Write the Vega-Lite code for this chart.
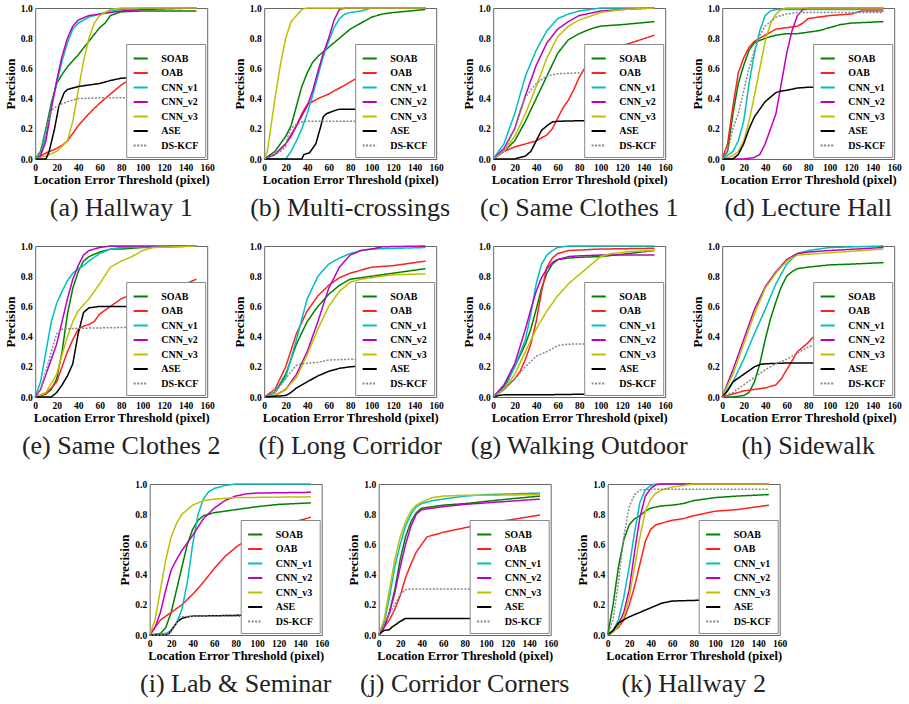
{
"$schema":"https://vega.github.io/schema/vega-lite/v6.json",
"padding":{"top":2,"left":3,"right":5,"bottom":5},
"data":{"values":[
{"p":"a","s":"SOAB","x":0,"y":0},{"p":"a","s":"SOAB","x":5,"y":0.05},{"p":"a","s":"SOAB","x":10,"y":0.2},{"p":"a","s":"SOAB","x":15,"y":0.37},{"p":"a","s":"SOAB","x":20,"y":0.5},{"p":"a","s":"SOAB","x":25,"y":0.56},{"p":"a","s":"SOAB","x":30,"y":0.61},{"p":"a","s":"SOAB","x":40,"y":0.69},{"p":"a","s":"SOAB","x":50,"y":0.78},{"p":"a","s":"SOAB","x":60,"y":0.87},{"p":"a","s":"SOAB","x":65,"y":0.9},{"p":"a","s":"SOAB","x":70,"y":0.95},{"p":"a","s":"SOAB","x":80,"y":0.975},{"p":"a","s":"SOAB","x":100,"y":0.98},{"p":"a","s":"SOAB","x":150,"y":0.98},
{"p":"a","s":"OAB","x":0,"y":0},{"p":"a","s":"OAB","x":10,"y":0.04},{"p":"a","s":"OAB","x":20,"y":0.07},{"p":"a","s":"OAB","x":25,"y":0.09},{"p":"a","s":"OAB","x":30,"y":0.12},{"p":"a","s":"OAB","x":40,"y":0.22},{"p":"a","s":"OAB","x":50,"y":0.3},{"p":"a","s":"OAB","x":60,"y":0.37},{"p":"a","s":"OAB","x":70,"y":0.43},{"p":"a","s":"OAB","x":80,"y":0.49},{"p":"a","s":"OAB","x":100,"y":0.58},{"p":"a","s":"OAB","x":120,"y":0.65},{"p":"a","s":"OAB","x":150,"y":0.75},
{"p":"a","s":"CNN_v1","x":0,"y":0},{"p":"a","s":"CNN_v1","x":5,"y":0.03},{"p":"a","s":"CNN_v1","x":10,"y":0.15},{"p":"a","s":"CNN_v1","x":15,"y":0.35},{"p":"a","s":"CNN_v1","x":20,"y":0.5},{"p":"a","s":"CNN_v1","x":25,"y":0.65},{"p":"a","s":"CNN_v1","x":30,"y":0.77},{"p":"a","s":"CNN_v1","x":35,"y":0.86},{"p":"a","s":"CNN_v1","x":40,"y":0.9},{"p":"a","s":"CNN_v1","x":50,"y":0.94},{"p":"a","s":"CNN_v1","x":60,"y":0.96},{"p":"a","s":"CNN_v1","x":70,"y":0.98},{"p":"a","s":"CNN_v1","x":80,"y":0.99},{"p":"a","s":"CNN_v1","x":100,"y":1},{"p":"a","s":"CNN_v1","x":150,"y":1},
{"p":"a","s":"CNN_v2","x":0,"y":0},{"p":"a","s":"CNN_v2","x":5,"y":0.02},{"p":"a","s":"CNN_v2","x":10,"y":0.12},{"p":"a","s":"CNN_v2","x":15,"y":0.33},{"p":"a","s":"CNN_v2","x":20,"y":0.52},{"p":"a","s":"CNN_v2","x":25,"y":0.68},{"p":"a","s":"CNN_v2","x":30,"y":0.8},{"p":"a","s":"CNN_v2","x":35,"y":0.88},{"p":"a","s":"CNN_v2","x":40,"y":0.92},{"p":"a","s":"CNN_v2","x":50,"y":0.95},{"p":"a","s":"CNN_v2","x":60,"y":0.96},{"p":"a","s":"CNN_v2","x":80,"y":0.98},{"p":"a","s":"CNN_v2","x":100,"y":0.99},{"p":"a","s":"CNN_v2","x":150,"y":1},
{"p":"a","s":"CNN_v3","x":0,"y":0},{"p":"a","s":"CNN_v3","x":10,"y":0.02},{"p":"a","s":"CNN_v3","x":20,"y":0.05},{"p":"a","s":"CNN_v3","x":30,"y":0.12},{"p":"a","s":"CNN_v3","x":35,"y":0.25},{"p":"a","s":"CNN_v3","x":40,"y":0.45},{"p":"a","s":"CNN_v3","x":45,"y":0.65},{"p":"a","s":"CNN_v3","x":50,"y":0.8},{"p":"a","s":"CNN_v3","x":55,"y":0.9},{"p":"a","s":"CNN_v3","x":60,"y":0.95},{"p":"a","s":"CNN_v3","x":70,"y":0.99},{"p":"a","s":"CNN_v3","x":80,"y":1},{"p":"a","s":"CNN_v3","x":150,"y":1},
{"p":"a","s":"ASE","x":0,"y":0},{"p":"a","s":"ASE","x":10,"y":0},{"p":"a","s":"ASE","x":13,"y":0.05},{"p":"a","s":"ASE","x":18,"y":0.2},{"p":"a","s":"ASE","x":22,"y":0.35},{"p":"a","s":"ASE","x":27,"y":0.44},{"p":"a","s":"ASE","x":30,"y":0.46},{"p":"a","s":"ASE","x":40,"y":0.48},{"p":"a","s":"ASE","x":50,"y":0.49},{"p":"a","s":"ASE","x":60,"y":0.5},{"p":"a","s":"ASE","x":70,"y":0.52},{"p":"a","s":"ASE","x":80,"y":0.535},{"p":"a","s":"ASE","x":90,"y":0.54},{"p":"a","s":"ASE","x":150,"y":0.55},
{"p":"a","s":"DS-KCF","x":0,"y":0},{"p":"a","s":"DS-KCF","x":5,"y":0.05},{"p":"a","s":"DS-KCF","x":10,"y":0.2},{"p":"a","s":"DS-KCF","x":15,"y":0.32},{"p":"a","s":"DS-KCF","x":20,"y":0.35},{"p":"a","s":"DS-KCF","x":30,"y":0.38},{"p":"a","s":"DS-KCF","x":40,"y":0.4},{"p":"a","s":"DS-KCF","x":60,"y":0.405},{"p":"a","s":"DS-KCF","x":150,"y":0.405},

{"p":"b","s":"SOAB","x":0,"y":0},{"p":"b","s":"SOAB","x":10,"y":0.05},{"p":"b","s":"SOAB","x":20,"y":0.15},{"p":"b","s":"SOAB","x":25,"y":0.22},{"p":"b","s":"SOAB","x":30,"y":0.35},{"p":"b","s":"SOAB","x":35,"y":0.48},{"p":"b","s":"SOAB","x":40,"y":0.57},{"p":"b","s":"SOAB","x":45,"y":0.64},{"p":"b","s":"SOAB","x":50,"y":0.68},{"p":"b","s":"SOAB","x":60,"y":0.74},{"p":"b","s":"SOAB","x":70,"y":0.8},{"p":"b","s":"SOAB","x":80,"y":0.86},{"p":"b","s":"SOAB","x":90,"y":0.9},{"p":"b","s":"SOAB","x":100,"y":0.94},{"p":"b","s":"SOAB","x":110,"y":0.96},{"p":"b","s":"SOAB","x":120,"y":0.97},{"p":"b","s":"SOAB","x":150,"y":0.99},
{"p":"b","s":"OAB","x":0,"y":0},{"p":"b","s":"OAB","x":10,"y":0.03},{"p":"b","s":"OAB","x":20,"y":0.1},{"p":"b","s":"OAB","x":25,"y":0.15},{"p":"b","s":"OAB","x":30,"y":0.22},{"p":"b","s":"OAB","x":35,"y":0.3},{"p":"b","s":"OAB","x":40,"y":0.36},{"p":"b","s":"OAB","x":50,"y":0.4},{"p":"b","s":"OAB","x":60,"y":0.43},{"p":"b","s":"OAB","x":70,"y":0.47},{"p":"b","s":"OAB","x":80,"y":0.51},{"p":"b","s":"OAB","x":85,"y":0.53},{"p":"b","s":"OAB","x":100,"y":0.57},{"p":"b","s":"OAB","x":150,"y":0.65},
{"p":"b","s":"CNN_v1","x":0,"y":0},{"p":"b","s":"CNN_v1","x":20,"y":0},{"p":"b","s":"CNN_v1","x":25,"y":0.05},{"p":"b","s":"CNN_v1","x":30,"y":0.12},{"p":"b","s":"CNN_v1","x":35,"y":0.2},{"p":"b","s":"CNN_v1","x":40,"y":0.3},{"p":"b","s":"CNN_v1","x":45,"y":0.42},{"p":"b","s":"CNN_v1","x":50,"y":0.55},{"p":"b","s":"CNN_v1","x":55,"y":0.68},{"p":"b","s":"CNN_v1","x":60,"y":0.78},{"p":"b","s":"CNN_v1","x":65,"y":0.87},{"p":"b","s":"CNN_v1","x":70,"y":0.93},{"p":"b","s":"CNN_v1","x":75,"y":0.96},{"p":"b","s":"CNN_v1","x":80,"y":0.97},{"p":"b","s":"CNN_v1","x":90,"y":0.98},{"p":"b","s":"CNN_v1","x":100,"y":1},{"p":"b","s":"CNN_v1","x":150,"y":1},
{"p":"b","s":"CNN_v2","x":0,"y":0},{"p":"b","s":"CNN_v2","x":10,"y":0.03},{"p":"b","s":"CNN_v2","x":20,"y":0.1},{"p":"b","s":"CNN_v2","x":30,"y":0.22},{"p":"b","s":"CNN_v2","x":40,"y":0.35},{"p":"b","s":"CNN_v2","x":45,"y":0.45},{"p":"b","s":"CNN_v2","x":50,"y":0.58},{"p":"b","s":"CNN_v2","x":55,"y":0.7},{"p":"b","s":"CNN_v2","x":60,"y":0.8},{"p":"b","s":"CNN_v2","x":65,"y":0.92},{"p":"b","s":"CNN_v2","x":70,"y":0.99},{"p":"b","s":"CNN_v2","x":75,"y":1},{"p":"b","s":"CNN_v2","x":150,"y":1},
{"p":"b","s":"CNN_v3","x":0,"y":0},{"p":"b","s":"CNN_v3","x":3,"y":0.05},{"p":"b","s":"CNN_v3","x":5,"y":0.15},{"p":"b","s":"CNN_v3","x":10,"y":0.4},{"p":"b","s":"CNN_v3","x":15,"y":0.62},{"p":"b","s":"CNN_v3","x":20,"y":0.8},{"p":"b","s":"CNN_v3","x":25,"y":0.91},{"p":"b","s":"CNN_v3","x":30,"y":0.95},{"p":"b","s":"CNN_v3","x":35,"y":0.99},{"p":"b","s":"CNN_v3","x":40,"y":1},{"p":"b","s":"CNN_v3","x":150,"y":1},
{"p":"b","s":"ASE","x":0,"y":0},{"p":"b","s":"ASE","x":35,"y":0},{"p":"b","s":"ASE","x":37,"y":0.03},{"p":"b","s":"ASE","x":42,"y":0.04},{"p":"b","s":"ASE","x":48,"y":0.1},{"p":"b","s":"ASE","x":52,"y":0.2},{"p":"b","s":"ASE","x":55,"y":0.28},{"p":"b","s":"ASE","x":58,"y":0.3},{"p":"b","s":"ASE","x":65,"y":0.32},{"p":"b","s":"ASE","x":70,"y":0.33},{"p":"b","s":"ASE","x":150,"y":0.33},
{"p":"b","s":"DS-KCF","x":0,"y":0},{"p":"b","s":"DS-KCF","x":10,"y":0.03},{"p":"b","s":"DS-KCF","x":15,"y":0.05},{"p":"b","s":"DS-KCF","x":20,"y":0.08},{"p":"b","s":"DS-KCF","x":22,"y":0.15},{"p":"b","s":"DS-KCF","x":25,"y":0.2},{"p":"b","s":"DS-KCF","x":28,"y":0.22},{"p":"b","s":"DS-KCF","x":30,"y":0.23},{"p":"b","s":"DS-KCF","x":35,"y":0.245},{"p":"b","s":"DS-KCF","x":40,"y":0.25},{"p":"b","s":"DS-KCF","x":150,"y":0.25},

{"p":"c","s":"SOAB","x":0,"y":0},{"p":"c","s":"SOAB","x":10,"y":0.05},{"p":"c","s":"SOAB","x":20,"y":0.12},{"p":"c","s":"SOAB","x":30,"y":0.25},{"p":"c","s":"SOAB","x":40,"y":0.4},{"p":"c","s":"SOAB","x":50,"y":0.55},{"p":"c","s":"SOAB","x":60,"y":0.7},{"p":"c","s":"SOAB","x":70,"y":0.79},{"p":"c","s":"SOAB","x":80,"y":0.83},{"p":"c","s":"SOAB","x":90,"y":0.86},{"p":"c","s":"SOAB","x":100,"y":0.88},{"p":"c","s":"SOAB","x":120,"y":0.89},{"p":"c","s":"SOAB","x":150,"y":0.91},
{"p":"c","s":"OAB","x":0,"y":0},{"p":"c","s":"OAB","x":10,"y":0.05},{"p":"c","s":"OAB","x":20,"y":0.08},{"p":"c","s":"OAB","x":30,"y":0.1},{"p":"c","s":"OAB","x":40,"y":0.12},{"p":"c","s":"OAB","x":50,"y":0.16},{"p":"c","s":"OAB","x":55,"y":0.2},{"p":"c","s":"OAB","x":60,"y":0.27},{"p":"c","s":"OAB","x":65,"y":0.34},{"p":"c","s":"OAB","x":70,"y":0.39},{"p":"c","s":"OAB","x":75,"y":0.46},{"p":"c","s":"OAB","x":80,"y":0.54},{"p":"c","s":"OAB","x":85,"y":0.6},{"p":"c","s":"OAB","x":100,"y":0.7},{"p":"c","s":"OAB","x":120,"y":0.75},{"p":"c","s":"OAB","x":150,"y":0.82},
{"p":"c","s":"CNN_v1","x":0,"y":0},{"p":"c","s":"CNN_v1","x":10,"y":0.1},{"p":"c","s":"CNN_v1","x":20,"y":0.3},{"p":"c","s":"CNN_v1","x":30,"y":0.55},{"p":"c","s":"CNN_v1","x":40,"y":0.72},{"p":"c","s":"CNN_v1","x":50,"y":0.85},{"p":"c","s":"CNN_v1","x":60,"y":0.93},{"p":"c","s":"CNN_v1","x":70,"y":0.96},{"p":"c","s":"CNN_v1","x":80,"y":0.98},{"p":"c","s":"CNN_v1","x":100,"y":1},{"p":"c","s":"CNN_v1","x":150,"y":1},
{"p":"c","s":"CNN_v2","x":0,"y":0},{"p":"c","s":"CNN_v2","x":10,"y":0.07},{"p":"c","s":"CNN_v2","x":20,"y":0.2},{"p":"c","s":"CNN_v2","x":30,"y":0.42},{"p":"c","s":"CNN_v2","x":40,"y":0.62},{"p":"c","s":"CNN_v2","x":50,"y":0.77},{"p":"c","s":"CNN_v2","x":60,"y":0.86},{"p":"c","s":"CNN_v2","x":70,"y":0.91},{"p":"c","s":"CNN_v2","x":80,"y":0.95},{"p":"c","s":"CNN_v2","x":100,"y":0.98},{"p":"c","s":"CNN_v2","x":120,"y":0.99},{"p":"c","s":"CNN_v2","x":150,"y":1},
{"p":"c","s":"CNN_v3","x":0,"y":0},{"p":"c","s":"CNN_v3","x":10,"y":0.05},{"p":"c","s":"CNN_v3","x":20,"y":0.15},{"p":"c","s":"CNN_v3","x":30,"y":0.3},{"p":"c","s":"CNN_v3","x":40,"y":0.48},{"p":"c","s":"CNN_v3","x":50,"y":0.67},{"p":"c","s":"CNN_v3","x":60,"y":0.81},{"p":"c","s":"CNN_v3","x":70,"y":0.88},{"p":"c","s":"CNN_v3","x":80,"y":0.92},{"p":"c","s":"CNN_v3","x":100,"y":0.97},{"p":"c","s":"CNN_v3","x":120,"y":0.99},{"p":"c","s":"CNN_v3","x":150,"y":1},
{"p":"c","s":"ASE","x":0,"y":0},{"p":"c","s":"ASE","x":20,"y":0},{"p":"c","s":"ASE","x":30,"y":0.02},{"p":"c","s":"ASE","x":35,"y":0.05},{"p":"c","s":"ASE","x":40,"y":0.12},{"p":"c","s":"ASE","x":45,"y":0.19},{"p":"c","s":"ASE","x":50,"y":0.22},{"p":"c","s":"ASE","x":55,"y":0.245},{"p":"c","s":"ASE","x":60,"y":0.25},{"p":"c","s":"ASE","x":90,"y":0.255},{"p":"c","s":"ASE","x":150,"y":0.26},
{"p":"c","s":"DS-KCF","x":0,"y":0},{"p":"c","s":"DS-KCF","x":10,"y":0.05},{"p":"c","s":"DS-KCF","x":20,"y":0.2},{"p":"c","s":"DS-KCF","x":25,"y":0.32},{"p":"c","s":"DS-KCF","x":30,"y":0.41},{"p":"c","s":"DS-KCF","x":40,"y":0.5},{"p":"c","s":"DS-KCF","x":50,"y":0.55},{"p":"c","s":"DS-KCF","x":60,"y":0.565},{"p":"c","s":"DS-KCF","x":80,"y":0.57},{"p":"c","s":"DS-KCF","x":150,"y":0.57},

{"p":"d","s":"SOAB","x":0,"y":0},{"p":"d","s":"SOAB","x":5,"y":0.05},{"p":"d","s":"SOAB","x":10,"y":0.3},{"p":"d","s":"SOAB","x":15,"y":0.5},{"p":"d","s":"SOAB","x":20,"y":0.62},{"p":"d","s":"SOAB","x":25,"y":0.72},{"p":"d","s":"SOAB","x":30,"y":0.77},{"p":"d","s":"SOAB","x":40,"y":0.8},{"p":"d","s":"SOAB","x":50,"y":0.82},{"p":"d","s":"SOAB","x":60,"y":0.83},{"p":"d","s":"SOAB","x":70,"y":0.83},{"p":"d","s":"SOAB","x":80,"y":0.84},{"p":"d","s":"SOAB","x":90,"y":0.85},{"p":"d","s":"SOAB","x":100,"y":0.87},{"p":"d","s":"SOAB","x":110,"y":0.89},{"p":"d","s":"SOAB","x":120,"y":0.9},{"p":"d","s":"SOAB","x":150,"y":0.91},
{"p":"d","s":"OAB","x":0,"y":0},{"p":"d","s":"OAB","x":5,"y":0.1},{"p":"d","s":"OAB","x":10,"y":0.35},{"p":"d","s":"OAB","x":15,"y":0.57},{"p":"d","s":"OAB","x":20,"y":0.67},{"p":"d","s":"OAB","x":25,"y":0.74},{"p":"d","s":"OAB","x":30,"y":0.78},{"p":"d","s":"OAB","x":40,"y":0.82},{"p":"d","s":"OAB","x":50,"y":0.86},{"p":"d","s":"OAB","x":60,"y":0.87},{"p":"d","s":"OAB","x":70,"y":0.88},{"p":"d","s":"OAB","x":75,"y":0.9},{"p":"d","s":"OAB","x":80,"y":0.93},{"p":"d","s":"OAB","x":100,"y":0.95},{"p":"d","s":"OAB","x":120,"y":0.96},{"p":"d","s":"OAB","x":130,"y":0.98},{"p":"d","s":"OAB","x":150,"y":0.98},
{"p":"d","s":"CNN_v1","x":0,"y":0},{"p":"d","s":"CNN_v1","x":10,"y":0.05},{"p":"d","s":"CNN_v1","x":15,"y":0.12},{"p":"d","s":"CNN_v1","x":20,"y":0.25},{"p":"d","s":"CNN_v1","x":25,"y":0.5},{"p":"d","s":"CNN_v1","x":30,"y":0.7},{"p":"d","s":"CNN_v1","x":35,"y":0.85},{"p":"d","s":"CNN_v1","x":40,"y":0.95},{"p":"d","s":"CNN_v1","x":45,"y":0.98},{"p":"d","s":"CNN_v1","x":50,"y":0.99},{"p":"d","s":"CNN_v1","x":150,"y":0.99},
{"p":"d","s":"CNN_v2","x":0,"y":0},{"p":"d","s":"CNN_v2","x":20,"y":0},{"p":"d","s":"CNN_v2","x":30,"y":0.01},{"p":"d","s":"CNN_v2","x":35,"y":0.03},{"p":"d","s":"CNN_v2","x":40,"y":0.1},{"p":"d","s":"CNN_v2","x":45,"y":0.2},{"p":"d","s":"CNN_v2","x":50,"y":0.3},{"p":"d","s":"CNN_v2","x":55,"y":0.5},{"p":"d","s":"CNN_v2","x":60,"y":0.7},{"p":"d","s":"CNN_v2","x":65,"y":0.85},{"p":"d","s":"CNN_v2","x":70,"y":0.95},{"p":"d","s":"CNN_v2","x":75,"y":0.99},{"p":"d","s":"CNN_v2","x":80,"y":1},{"p":"d","s":"CNN_v2","x":150,"y":1},
{"p":"d","s":"CNN_v3","x":0,"y":0},{"p":"d","s":"CNN_v3","x":10,"y":0.02},{"p":"d","s":"CNN_v3","x":15,"y":0.05},{"p":"d","s":"CNN_v3","x":20,"y":0.12},{"p":"d","s":"CNN_v3","x":25,"y":0.25},{"p":"d","s":"CNN_v3","x":30,"y":0.42},{"p":"d","s":"CNN_v3","x":35,"y":0.6},{"p":"d","s":"CNN_v3","x":40,"y":0.78},{"p":"d","s":"CNN_v3","x":45,"y":0.9},{"p":"d","s":"CNN_v3","x":50,"y":0.96},{"p":"d","s":"CNN_v3","x":55,"y":0.99},{"p":"d","s":"CNN_v3","x":60,"y":1},{"p":"d","s":"CNN_v3","x":150,"y":1},
{"p":"d","s":"ASE","x":0,"y":0},{"p":"d","s":"ASE","x":10,"y":0},{"p":"d","s":"ASE","x":15,"y":0.03},{"p":"d","s":"ASE","x":20,"y":0.1},{"p":"d","s":"ASE","x":25,"y":0.2},{"p":"d","s":"ASE","x":30,"y":0.28},{"p":"d","s":"ASE","x":35,"y":0.33},{"p":"d","s":"ASE","x":40,"y":0.38},{"p":"d","s":"ASE","x":45,"y":0.41},{"p":"d","s":"ASE","x":50,"y":0.44},{"p":"d","s":"ASE","x":55,"y":0.45},{"p":"d","s":"ASE","x":60,"y":0.455},{"p":"d","s":"ASE","x":70,"y":0.47},{"p":"d","s":"ASE","x":80,"y":0.475},{"p":"d","s":"ASE","x":150,"y":0.48},
{"p":"d","s":"DS-KCF","x":0,"y":0},{"p":"d","s":"DS-KCF","x":5,"y":0.05},{"p":"d","s":"DS-KCF","x":10,"y":0.2},{"p":"d","s":"DS-KCF","x":15,"y":0.3},{"p":"d","s":"DS-KCF","x":20,"y":0.45},{"p":"d","s":"DS-KCF","x":25,"y":0.6},{"p":"d","s":"DS-KCF","x":30,"y":0.72},{"p":"d","s":"DS-KCF","x":35,"y":0.82},{"p":"d","s":"DS-KCF","x":40,"y":0.88},{"p":"d","s":"DS-KCF","x":50,"y":0.94},{"p":"d","s":"DS-KCF","x":60,"y":0.96},{"p":"d","s":"DS-KCF","x":70,"y":0.97},{"p":"d","s":"DS-KCF","x":150,"y":0.97},

{"p":"e","s":"SOAB","x":0,"y":0},{"p":"e","s":"SOAB","x":10,"y":0.02},{"p":"e","s":"SOAB","x":15,"y":0.05},{"p":"e","s":"SOAB","x":20,"y":0.12},{"p":"e","s":"SOAB","x":25,"y":0.3},{"p":"e","s":"SOAB","x":30,"y":0.55},{"p":"e","s":"SOAB","x":35,"y":0.72},{"p":"e","s":"SOAB","x":40,"y":0.83},{"p":"e","s":"SOAB","x":45,"y":0.9},{"p":"e","s":"SOAB","x":50,"y":0.93},{"p":"e","s":"SOAB","x":60,"y":0.96},{"p":"e","s":"SOAB","x":70,"y":0.98},{"p":"e","s":"SOAB","x":80,"y":0.98},{"p":"e","s":"SOAB","x":100,"y":0.99},{"p":"e","s":"SOAB","x":150,"y":1},
{"p":"e","s":"OAB","x":0,"y":0},{"p":"e","s":"OAB","x":10,"y":0.02},{"p":"e","s":"OAB","x":20,"y":0.1},{"p":"e","s":"OAB","x":25,"y":0.2},{"p":"e","s":"OAB","x":30,"y":0.3},{"p":"e","s":"OAB","x":35,"y":0.38},{"p":"e","s":"OAB","x":40,"y":0.45},{"p":"e","s":"OAB","x":45,"y":0.47},{"p":"e","s":"OAB","x":50,"y":0.48},{"p":"e","s":"OAB","x":55,"y":0.5},{"p":"e","s":"OAB","x":60,"y":0.55},{"p":"e","s":"OAB","x":70,"y":0.6},{"p":"e","s":"OAB","x":80,"y":0.65},{"p":"e","s":"OAB","x":90,"y":0.68},{"p":"e","s":"OAB","x":100,"y":0.7},{"p":"e","s":"OAB","x":120,"y":0.72},{"p":"e","s":"OAB","x":140,"y":0.75},{"p":"e","s":"OAB","x":150,"y":0.78},
{"p":"e","s":"CNN_v1","x":0,"y":0},{"p":"e","s":"CNN_v1","x":5,"y":0.1},{"p":"e","s":"CNN_v1","x":10,"y":0.3},{"p":"e","s":"CNN_v1","x":15,"y":0.5},{"p":"e","s":"CNN_v1","x":20,"y":0.62},{"p":"e","s":"CNN_v1","x":25,"y":0.7},{"p":"e","s":"CNN_v1","x":30,"y":0.77},{"p":"e","s":"CNN_v1","x":35,"y":0.82},{"p":"e","s":"CNN_v1","x":40,"y":0.85},{"p":"e","s":"CNN_v1","x":45,"y":0.87},{"p":"e","s":"CNN_v1","x":50,"y":0.9},{"p":"e","s":"CNN_v1","x":60,"y":0.95},{"p":"e","s":"CNN_v1","x":70,"y":0.98},{"p":"e","s":"CNN_v1","x":80,"y":0.99},{"p":"e","s":"CNN_v1","x":150,"y":1},
{"p":"e","s":"CNN_v2","x":0,"y":0},{"p":"e","s":"CNN_v2","x":5,"y":0.05},{"p":"e","s":"CNN_v2","x":10,"y":0.15},{"p":"e","s":"CNN_v2","x":15,"y":0.25},{"p":"e","s":"CNN_v2","x":20,"y":0.35},{"p":"e","s":"CNN_v2","x":25,"y":0.5},{"p":"e","s":"CNN_v2","x":30,"y":0.65},{"p":"e","s":"CNN_v2","x":35,"y":0.78},{"p":"e","s":"CNN_v2","x":40,"y":0.87},{"p":"e","s":"CNN_v2","x":45,"y":0.94},{"p":"e","s":"CNN_v2","x":50,"y":0.97},{"p":"e","s":"CNN_v2","x":60,"y":0.99},{"p":"e","s":"CNN_v2","x":70,"y":1},{"p":"e","s":"CNN_v2","x":150,"y":1},
{"p":"e","s":"CNN_v3","x":0,"y":0},{"p":"e","s":"CNN_v3","x":10,"y":0.03},{"p":"e","s":"CNN_v3","x":20,"y":0.15},{"p":"e","s":"CNN_v3","x":25,"y":0.28},{"p":"e","s":"CNN_v3","x":30,"y":0.4},{"p":"e","s":"CNN_v3","x":35,"y":0.5},{"p":"e","s":"CNN_v3","x":40,"y":0.57},{"p":"e","s":"CNN_v3","x":50,"y":0.65},{"p":"e","s":"CNN_v3","x":55,"y":0.7},{"p":"e","s":"CNN_v3","x":60,"y":0.75},{"p":"e","s":"CNN_v3","x":70,"y":0.86},{"p":"e","s":"CNN_v3","x":80,"y":0.9},{"p":"e","s":"CNN_v3","x":90,"y":0.93},{"p":"e","s":"CNN_v3","x":100,"y":0.97},{"p":"e","s":"CNN_v3","x":110,"y":0.99},{"p":"e","s":"CNN_v3","x":150,"y":1},
{"p":"e","s":"ASE","x":0,"y":0},{"p":"e","s":"ASE","x":15,"y":0},{"p":"e","s":"ASE","x":20,"y":0.03},{"p":"e","s":"ASE","x":25,"y":0.08},{"p":"e","s":"ASE","x":30,"y":0.14},{"p":"e","s":"ASE","x":35,"y":0.22},{"p":"e","s":"ASE","x":40,"y":0.42},{"p":"e","s":"ASE","x":45,"y":0.56},{"p":"e","s":"ASE","x":50,"y":0.59},{"p":"e","s":"ASE","x":60,"y":0.6},{"p":"e","s":"ASE","x":150,"y":0.6},
{"p":"e","s":"DS-KCF","x":0,"y":0},{"p":"e","s":"DS-KCF","x":5,"y":0.05},{"p":"e","s":"DS-KCF","x":10,"y":0.17},{"p":"e","s":"DS-KCF","x":15,"y":0.3},{"p":"e","s":"DS-KCF","x":20,"y":0.42},{"p":"e","s":"DS-KCF","x":25,"y":0.45},{"p":"e","s":"DS-KCF","x":40,"y":0.455},{"p":"e","s":"DS-KCF","x":80,"y":0.46},{"p":"e","s":"DS-KCF","x":150,"y":0.46},

{"p":"f","s":"SOAB","x":0,"y":0},{"p":"f","s":"SOAB","x":10,"y":0.03},{"p":"f","s":"SOAB","x":20,"y":0.15},{"p":"f","s":"SOAB","x":30,"y":0.35},{"p":"f","s":"SOAB","x":40,"y":0.5},{"p":"f","s":"SOAB","x":50,"y":0.6},{"p":"f","s":"SOAB","x":60,"y":0.68},{"p":"f","s":"SOAB","x":70,"y":0.74},{"p":"f","s":"SOAB","x":80,"y":0.78},{"p":"f","s":"SOAB","x":90,"y":0.79},{"p":"f","s":"SOAB","x":100,"y":0.8},{"p":"f","s":"SOAB","x":120,"y":0.82},{"p":"f","s":"SOAB","x":150,"y":0.85},
{"p":"f","s":"OAB","x":0,"y":0},{"p":"f","s":"OAB","x":10,"y":0.05},{"p":"f","s":"OAB","x":20,"y":0.2},{"p":"f","s":"OAB","x":30,"y":0.42},{"p":"f","s":"OAB","x":40,"y":0.57},{"p":"f","s":"OAB","x":50,"y":0.67},{"p":"f","s":"OAB","x":60,"y":0.74},{"p":"f","s":"OAB","x":70,"y":0.79},{"p":"f","s":"OAB","x":80,"y":0.82},{"p":"f","s":"OAB","x":100,"y":0.86},{"p":"f","s":"OAB","x":120,"y":0.87},{"p":"f","s":"OAB","x":150,"y":0.9},
{"p":"f","s":"CNN_v1","x":0,"y":0},{"p":"f","s":"CNN_v1","x":10,"y":0.03},{"p":"f","s":"CNN_v1","x":20,"y":0.13},{"p":"f","s":"CNN_v1","x":30,"y":0.38},{"p":"f","s":"CNN_v1","x":40,"y":0.65},{"p":"f","s":"CNN_v1","x":50,"y":0.8},{"p":"f","s":"CNN_v1","x":60,"y":0.88},{"p":"f","s":"CNN_v1","x":70,"y":0.92},{"p":"f","s":"CNN_v1","x":80,"y":0.95},{"p":"f","s":"CNN_v1","x":90,"y":0.97},{"p":"f","s":"CNN_v1","x":100,"y":0.98},{"p":"f","s":"CNN_v1","x":150,"y":0.99},
{"p":"f","s":"CNN_v2","x":0,"y":0},{"p":"f","s":"CNN_v2","x":10,"y":0.01},{"p":"f","s":"CNN_v2","x":20,"y":0.05},{"p":"f","s":"CNN_v2","x":30,"y":0.15},{"p":"f","s":"CNN_v2","x":40,"y":0.3},{"p":"f","s":"CNN_v2","x":50,"y":0.5},{"p":"f","s":"CNN_v2","x":60,"y":0.72},{"p":"f","s":"CNN_v2","x":70,"y":0.86},{"p":"f","s":"CNN_v2","x":80,"y":0.94},{"p":"f","s":"CNN_v2","x":90,"y":0.97},{"p":"f","s":"CNN_v2","x":100,"y":0.98},{"p":"f","s":"CNN_v2","x":110,"y":0.995},{"p":"f","s":"CNN_v2","x":150,"y":1},
{"p":"f","s":"CNN_v3","x":0,"y":0},{"p":"f","s":"CNN_v3","x":10,"y":0.01},{"p":"f","s":"CNN_v3","x":20,"y":0.05},{"p":"f","s":"CNN_v3","x":30,"y":0.13},{"p":"f","s":"CNN_v3","x":40,"y":0.28},{"p":"f","s":"CNN_v3","x":50,"y":0.45},{"p":"f","s":"CNN_v3","x":60,"y":0.6},{"p":"f","s":"CNN_v3","x":70,"y":0.7},{"p":"f","s":"CNN_v3","x":80,"y":0.76},{"p":"f","s":"CNN_v3","x":90,"y":0.78},{"p":"f","s":"CNN_v3","x":100,"y":0.79},{"p":"f","s":"CNN_v3","x":120,"y":0.81},{"p":"f","s":"CNN_v3","x":150,"y":0.815},
{"p":"f","s":"ASE","x":0,"y":0},{"p":"f","s":"ASE","x":20,"y":0.01},{"p":"f","s":"ASE","x":25,"y":0.03},{"p":"f","s":"ASE","x":30,"y":0.06},{"p":"f","s":"ASE","x":40,"y":0.1},{"p":"f","s":"ASE","x":50,"y":0.14},{"p":"f","s":"ASE","x":60,"y":0.17},{"p":"f","s":"ASE","x":70,"y":0.19},{"p":"f","s":"ASE","x":80,"y":0.2},{"p":"f","s":"ASE","x":90,"y":0.205},{"p":"f","s":"ASE","x":150,"y":0.21},
{"p":"f","s":"DS-KCF","x":0,"y":0},{"p":"f","s":"DS-KCF","x":10,"y":0.03},{"p":"f","s":"DS-KCF","x":20,"y":0.12},{"p":"f","s":"DS-KCF","x":25,"y":0.17},{"p":"f","s":"DS-KCF","x":30,"y":0.21},{"p":"f","s":"DS-KCF","x":35,"y":0.22},{"p":"f","s":"DS-KCF","x":50,"y":0.23},{"p":"f","s":"DS-KCF","x":60,"y":0.245},{"p":"f","s":"DS-KCF","x":80,"y":0.25},{"p":"f","s":"DS-KCF","x":150,"y":0.255},

{"p":"g","s":"SOAB","x":0,"y":0},{"p":"g","s":"SOAB","x":10,"y":0.07},{"p":"g","s":"SOAB","x":20,"y":0.2},{"p":"g","s":"SOAB","x":30,"y":0.35},{"p":"g","s":"SOAB","x":35,"y":0.45},{"p":"g","s":"SOAB","x":40,"y":0.58},{"p":"g","s":"SOAB","x":45,"y":0.72},{"p":"g","s":"SOAB","x":50,"y":0.82},{"p":"g","s":"SOAB","x":55,"y":0.88},{"p":"g","s":"SOAB","x":60,"y":0.91},{"p":"g","s":"SOAB","x":70,"y":0.92},{"p":"g","s":"SOAB","x":80,"y":0.925},{"p":"g","s":"SOAB","x":100,"y":0.93},{"p":"g","s":"SOAB","x":120,"y":0.945},{"p":"g","s":"SOAB","x":150,"y":0.97},
{"p":"g","s":"OAB","x":0,"y":0},{"p":"g","s":"OAB","x":10,"y":0.05},{"p":"g","s":"OAB","x":20,"y":0.12},{"p":"g","s":"OAB","x":25,"y":0.17},{"p":"g","s":"OAB","x":30,"y":0.25},{"p":"g","s":"OAB","x":35,"y":0.35},{"p":"g","s":"OAB","x":40,"y":0.5},{"p":"g","s":"OAB","x":45,"y":0.7},{"p":"g","s":"OAB","x":50,"y":0.86},{"p":"g","s":"OAB","x":55,"y":0.92},{"p":"g","s":"OAB","x":60,"y":0.95},{"p":"g","s":"OAB","x":70,"y":0.97},{"p":"g","s":"OAB","x":100,"y":0.98},{"p":"g","s":"OAB","x":150,"y":0.985},
{"p":"g","s":"CNN_v1","x":0,"y":0},{"p":"g","s":"CNN_v1","x":10,"y":0.05},{"p":"g","s":"CNN_v1","x":20,"y":0.2},{"p":"g","s":"CNN_v1","x":30,"y":0.38},{"p":"g","s":"CNN_v1","x":35,"y":0.55},{"p":"g","s":"CNN_v1","x":40,"y":0.75},{"p":"g","s":"CNN_v1","x":45,"y":0.88},{"p":"g","s":"CNN_v1","x":50,"y":0.94},{"p":"g","s":"CNN_v1","x":55,"y":0.97},{"p":"g","s":"CNN_v1","x":60,"y":0.99},{"p":"g","s":"CNN_v1","x":70,"y":1},{"p":"g","s":"CNN_v1","x":150,"y":1},
{"p":"g","s":"CNN_v2","x":0,"y":0},{"p":"g","s":"CNN_v2","x":10,"y":0.08},{"p":"g","s":"CNN_v2","x":20,"y":0.22},{"p":"g","s":"CNN_v2","x":30,"y":0.45},{"p":"g","s":"CNN_v2","x":35,"y":0.58},{"p":"g","s":"CNN_v2","x":40,"y":0.7},{"p":"g","s":"CNN_v2","x":45,"y":0.79},{"p":"g","s":"CNN_v2","x":50,"y":0.85},{"p":"g","s":"CNN_v2","x":55,"y":0.89},{"p":"g","s":"CNN_v2","x":60,"y":0.91},{"p":"g","s":"CNN_v2","x":70,"y":0.93},{"p":"g","s":"CNN_v2","x":80,"y":0.935},{"p":"g","s":"CNN_v2","x":100,"y":0.94},{"p":"g","s":"CNN_v2","x":150,"y":0.94},
{"p":"g","s":"CNN_v3","x":0,"y":0},{"p":"g","s":"CNN_v3","x":10,"y":0.05},{"p":"g","s":"CNN_v3","x":20,"y":0.15},{"p":"g","s":"CNN_v3","x":30,"y":0.3},{"p":"g","s":"CNN_v3","x":40,"y":0.45},{"p":"g","s":"CNN_v3","x":50,"y":0.57},{"p":"g","s":"CNN_v3","x":60,"y":0.67},{"p":"g","s":"CNN_v3","x":70,"y":0.75},{"p":"g","s":"CNN_v3","x":80,"y":0.81},{"p":"g","s":"CNN_v3","x":90,"y":0.87},{"p":"g","s":"CNN_v3","x":100,"y":0.93},{"p":"g","s":"CNN_v3","x":110,"y":0.95},{"p":"g","s":"CNN_v3","x":130,"y":0.965},{"p":"g","s":"CNN_v3","x":150,"y":0.97},
{"p":"g","s":"ASE","x":0,"y":0},{"p":"g","s":"ASE","x":5,"y":0.01},{"p":"g","s":"ASE","x":10,"y":0.015},{"p":"g","s":"ASE","x":50,"y":0.015},{"p":"g","s":"ASE","x":100,"y":0.02},{"p":"g","s":"ASE","x":115,"y":0.025},{"p":"g","s":"ASE","x":125,"y":0.035},{"p":"g","s":"ASE","x":150,"y":0.04},
{"p":"g","s":"DS-KCF","x":0,"y":0},{"p":"g","s":"DS-KCF","x":10,"y":0.05},{"p":"g","s":"DS-KCF","x":20,"y":0.12},{"p":"g","s":"DS-KCF","x":30,"y":0.2},{"p":"g","s":"DS-KCF","x":40,"y":0.27},{"p":"g","s":"DS-KCF","x":50,"y":0.3},{"p":"g","s":"DS-KCF","x":60,"y":0.34},{"p":"g","s":"DS-KCF","x":70,"y":0.35},{"p":"g","s":"DS-KCF","x":150,"y":0.355},

{"p":"h","s":"SOAB","x":0,"y":0},{"p":"h","s":"SOAB","x":10,"y":0},{"p":"h","s":"SOAB","x":20,"y":0.01},{"p":"h","s":"SOAB","x":25,"y":0.03},{"p":"h","s":"SOAB","x":30,"y":0.1},{"p":"h","s":"SOAB","x":35,"y":0.22},{"p":"h","s":"SOAB","x":40,"y":0.38},{"p":"h","s":"SOAB","x":45,"y":0.52},{"p":"h","s":"SOAB","x":50,"y":0.63},{"p":"h","s":"SOAB","x":55,"y":0.73},{"p":"h","s":"SOAB","x":60,"y":0.8},{"p":"h","s":"SOAB","x":65,"y":0.83},{"p":"h","s":"SOAB","x":70,"y":0.85},{"p":"h","s":"SOAB","x":80,"y":0.86},{"p":"h","s":"SOAB","x":100,"y":0.875},{"p":"h","s":"SOAB","x":120,"y":0.88},{"p":"h","s":"SOAB","x":150,"y":0.89},
{"p":"h","s":"OAB","x":0,"y":0},{"p":"h","s":"OAB","x":10,"y":0.02},{"p":"h","s":"OAB","x":20,"y":0.04},{"p":"h","s":"OAB","x":30,"y":0.05},{"p":"h","s":"OAB","x":40,"y":0.06},{"p":"h","s":"OAB","x":50,"y":0.08},{"p":"h","s":"OAB","x":55,"y":0.12},{"p":"h","s":"OAB","x":60,"y":0.18},{"p":"h","s":"OAB","x":65,"y":0.24},{"p":"h","s":"OAB","x":70,"y":0.3},{"p":"h","s":"OAB","x":75,"y":0.33},{"p":"h","s":"OAB","x":80,"y":0.36},{"p":"h","s":"OAB","x":85,"y":0.4},{"p":"h","s":"OAB","x":100,"y":0.47},{"p":"h","s":"OAB","x":150,"y":0.6},
{"p":"h","s":"CNN_v1","x":0,"y":0},{"p":"h","s":"CNN_v1","x":10,"y":0.1},{"p":"h","s":"CNN_v1","x":20,"y":0.25},{"p":"h","s":"CNN_v1","x":30,"y":0.42},{"p":"h","s":"CNN_v1","x":40,"y":0.58},{"p":"h","s":"CNN_v1","x":50,"y":0.75},{"p":"h","s":"CNN_v1","x":60,"y":0.88},{"p":"h","s":"CNN_v1","x":70,"y":0.95},{"p":"h","s":"CNN_v1","x":80,"y":0.97},{"p":"h","s":"CNN_v1","x":100,"y":0.99},{"p":"h","s":"CNN_v1","x":150,"y":1},
{"p":"h","s":"CNN_v2","x":0,"y":0},{"p":"h","s":"CNN_v2","x":10,"y":0.18},{"p":"h","s":"CNN_v2","x":20,"y":0.38},{"p":"h","s":"CNN_v2","x":30,"y":0.58},{"p":"h","s":"CNN_v2","x":40,"y":0.73},{"p":"h","s":"CNN_v2","x":50,"y":0.83},{"p":"h","s":"CNN_v2","x":60,"y":0.91},{"p":"h","s":"CNN_v2","x":70,"y":0.95},{"p":"h","s":"CNN_v2","x":80,"y":0.96},{"p":"h","s":"CNN_v2","x":100,"y":0.97},{"p":"h","s":"CNN_v2","x":150,"y":0.99},
{"p":"h","s":"CNN_v3","x":0,"y":0},{"p":"h","s":"CNN_v3","x":10,"y":0.15},{"p":"h","s":"CNN_v3","x":20,"y":0.35},{"p":"h","s":"CNN_v3","x":30,"y":0.55},{"p":"h","s":"CNN_v3","x":40,"y":0.72},{"p":"h","s":"CNN_v3","x":50,"y":0.82},{"p":"h","s":"CNN_v3","x":60,"y":0.9},{"p":"h","s":"CNN_v3","x":70,"y":0.94},{"p":"h","s":"CNN_v3","x":80,"y":0.945},{"p":"h","s":"CNN_v3","x":100,"y":0.955},{"p":"h","s":"CNN_v3","x":150,"y":0.98},
{"p":"h","s":"ASE","x":0,"y":0},{"p":"h","s":"ASE","x":5,"y":0.04},{"p":"h","s":"ASE","x":10,"y":0.1},{"p":"h","s":"ASE","x":20,"y":0.15},{"p":"h","s":"ASE","x":30,"y":0.2},{"p":"h","s":"ASE","x":35,"y":0.215},{"p":"h","s":"ASE","x":40,"y":0.22},{"p":"h","s":"ASE","x":60,"y":0.225},{"p":"h","s":"ASE","x":150,"y":0.225},
{"p":"h","s":"DS-KCF","x":0,"y":0},{"p":"h","s":"DS-KCF","x":10,"y":0.03},{"p":"h","s":"DS-KCF","x":20,"y":0.08},{"p":"h","s":"DS-KCF","x":30,"y":0.13},{"p":"h","s":"DS-KCF","x":40,"y":0.18},{"p":"h","s":"DS-KCF","x":50,"y":0.22},{"p":"h","s":"DS-KCF","x":60,"y":0.25},{"p":"h","s":"DS-KCF","x":70,"y":0.29},{"p":"h","s":"DS-KCF","x":80,"y":0.33},{"p":"h","s":"DS-KCF","x":90,"y":0.36},{"p":"h","s":"DS-KCF","x":100,"y":0.37},{"p":"h","s":"DS-KCF","x":150,"y":0.4},

{"p":"i","s":"SOAB","x":0,"y":0},{"p":"i","s":"SOAB","x":10,"y":0.01},{"p":"i","s":"SOAB","x":15,"y":0.05},{"p":"i","s":"SOAB","x":20,"y":0.15},{"p":"i","s":"SOAB","x":25,"y":0.3},{"p":"i","s":"SOAB","x":30,"y":0.45},{"p":"i","s":"SOAB","x":35,"y":0.6},{"p":"i","s":"SOAB","x":40,"y":0.7},{"p":"i","s":"SOAB","x":45,"y":0.76},{"p":"i","s":"SOAB","x":50,"y":0.79},{"p":"i","s":"SOAB","x":60,"y":0.81},{"p":"i","s":"SOAB","x":70,"y":0.82},{"p":"i","s":"SOAB","x":80,"y":0.83},{"p":"i","s":"SOAB","x":100,"y":0.85},{"p":"i","s":"SOAB","x":120,"y":0.865},{"p":"i","s":"SOAB","x":150,"y":0.875},
{"p":"i","s":"OAB","x":0,"y":0},{"p":"i","s":"OAB","x":5,"y":0.05},{"p":"i","s":"OAB","x":10,"y":0.1},{"p":"i","s":"OAB","x":20,"y":0.15},{"p":"i","s":"OAB","x":30,"y":0.2},{"p":"i","s":"OAB","x":40,"y":0.27},{"p":"i","s":"OAB","x":50,"y":0.35},{"p":"i","s":"OAB","x":60,"y":0.44},{"p":"i","s":"OAB","x":70,"y":0.52},{"p":"i","s":"OAB","x":80,"y":0.58},{"p":"i","s":"OAB","x":90,"y":0.63},{"p":"i","s":"OAB","x":100,"y":0.67},{"p":"i","s":"OAB","x":120,"y":0.72},{"p":"i","s":"OAB","x":150,"y":0.78},
{"p":"i","s":"CNN_v1","x":0,"y":0},{"p":"i","s":"CNN_v1","x":15,"y":0.01},{"p":"i","s":"CNN_v1","x":20,"y":0.03},{"p":"i","s":"CNN_v1","x":25,"y":0.08},{"p":"i","s":"CNN_v1","x":30,"y":0.17},{"p":"i","s":"CNN_v1","x":35,"y":0.35},{"p":"i","s":"CNN_v1","x":40,"y":0.6},{"p":"i","s":"CNN_v1","x":45,"y":0.8},{"p":"i","s":"CNN_v1","x":50,"y":0.9},{"p":"i","s":"CNN_v1","x":55,"y":0.95},{"p":"i","s":"CNN_v1","x":60,"y":0.97},{"p":"i","s":"CNN_v1","x":70,"y":0.99},{"p":"i","s":"CNN_v1","x":80,"y":1},{"p":"i","s":"CNN_v1","x":150,"y":1},
{"p":"i","s":"CNN_v2","x":0,"y":0},{"p":"i","s":"CNN_v2","x":5,"y":0.05},{"p":"i","s":"CNN_v2","x":10,"y":0.15},{"p":"i","s":"CNN_v2","x":15,"y":0.3},{"p":"i","s":"CNN_v2","x":20,"y":0.43},{"p":"i","s":"CNN_v2","x":25,"y":0.5},{"p":"i","s":"CNN_v2","x":30,"y":0.56},{"p":"i","s":"CNN_v2","x":40,"y":0.66},{"p":"i","s":"CNN_v2","x":50,"y":0.77},{"p":"i","s":"CNN_v2","x":60,"y":0.84},{"p":"i","s":"CNN_v2","x":70,"y":0.89},{"p":"i","s":"CNN_v2","x":80,"y":0.92},{"p":"i","s":"CNN_v2","x":90,"y":0.935},{"p":"i","s":"CNN_v2","x":100,"y":0.94},{"p":"i","s":"CNN_v2","x":150,"y":0.945},
{"p":"i","s":"CNN_v3","x":0,"y":0},{"p":"i","s":"CNN_v3","x":5,"y":0.1},{"p":"i","s":"CNN_v3","x":10,"y":0.3},{"p":"i","s":"CNN_v3","x":15,"y":0.5},{"p":"i","s":"CNN_v3","x":20,"y":0.65},{"p":"i","s":"CNN_v3","x":25,"y":0.74},{"p":"i","s":"CNN_v3","x":30,"y":0.8},{"p":"i","s":"CNN_v3","x":40,"y":0.86},{"p":"i","s":"CNN_v3","x":50,"y":0.89},{"p":"i","s":"CNN_v3","x":60,"y":0.9},{"p":"i","s":"CNN_v3","x":80,"y":0.91},{"p":"i","s":"CNN_v3","x":150,"y":0.915},
{"p":"i","s":"ASE","x":0,"y":0},{"p":"i","s":"ASE","x":15,"y":0},{"p":"i","s":"ASE","x":18,"y":0.01},{"p":"i","s":"ASE","x":22,"y":0.05},{"p":"i","s":"ASE","x":26,"y":0.09},{"p":"i","s":"ASE","x":30,"y":0.11},{"p":"i","s":"ASE","x":35,"y":0.12},{"p":"i","s":"ASE","x":40,"y":0.125},{"p":"i","s":"ASE","x":80,"y":0.13},{"p":"i","s":"ASE","x":150,"y":0.13},
{"p":"i","s":"DS-KCF","x":0,"y":0},{"p":"i","s":"DS-KCF","x":15,"y":0},{"p":"i","s":"DS-KCF","x":20,"y":0.02},{"p":"i","s":"DS-KCF","x":25,"y":0.08},{"p":"i","s":"DS-KCF","x":28,"y":0.12},{"p":"i","s":"DS-KCF","x":40,"y":0.125},{"p":"i","s":"DS-KCF","x":150,"y":0.125},

{"p":"j","s":"SOAB","x":0,"y":0},{"p":"j","s":"SOAB","x":5,"y":0.05},{"p":"j","s":"SOAB","x":10,"y":0.15},{"p":"j","s":"SOAB","x":15,"y":0.3},{"p":"j","s":"SOAB","x":20,"y":0.5},{"p":"j","s":"SOAB","x":25,"y":0.65},{"p":"j","s":"SOAB","x":30,"y":0.75},{"p":"j","s":"SOAB","x":35,"y":0.81},{"p":"j","s":"SOAB","x":40,"y":0.84},{"p":"j","s":"SOAB","x":50,"y":0.85},{"p":"j","s":"SOAB","x":60,"y":0.86},{"p":"j","s":"SOAB","x":80,"y":0.87},{"p":"j","s":"SOAB","x":100,"y":0.885},{"p":"j","s":"SOAB","x":120,"y":0.9},{"p":"j","s":"SOAB","x":150,"y":0.92},
{"p":"j","s":"OAB","x":0,"y":0},{"p":"j","s":"OAB","x":5,"y":0.05},{"p":"j","s":"OAB","x":10,"y":0.1},{"p":"j","s":"OAB","x":15,"y":0.17},{"p":"j","s":"OAB","x":20,"y":0.26},{"p":"j","s":"OAB","x":25,"y":0.38},{"p":"j","s":"OAB","x":30,"y":0.47},{"p":"j","s":"OAB","x":35,"y":0.55},{"p":"j","s":"OAB","x":40,"y":0.6},{"p":"j","s":"OAB","x":45,"y":0.65},{"p":"j","s":"OAB","x":50,"y":0.66},{"p":"j","s":"OAB","x":60,"y":0.68},{"p":"j","s":"OAB","x":80,"y":0.71},{"p":"j","s":"OAB","x":100,"y":0.74},{"p":"j","s":"OAB","x":120,"y":0.76},{"p":"j","s":"OAB","x":150,"y":0.795},
{"p":"j","s":"CNN_v1","x":0,"y":0},{"p":"j","s":"CNN_v1","x":5,"y":0.08},{"p":"j","s":"CNN_v1","x":10,"y":0.25},{"p":"j","s":"CNN_v1","x":15,"y":0.45},{"p":"j","s":"CNN_v1","x":20,"y":0.6},{"p":"j","s":"CNN_v1","x":25,"y":0.72},{"p":"j","s":"CNN_v1","x":30,"y":0.8},{"p":"j","s":"CNN_v1","x":35,"y":0.85},{"p":"j","s":"CNN_v1","x":40,"y":0.87},{"p":"j","s":"CNN_v1","x":50,"y":0.89},{"p":"j","s":"CNN_v1","x":60,"y":0.9},{"p":"j","s":"CNN_v1","x":80,"y":0.92},{"p":"j","s":"CNN_v1","x":100,"y":0.93},{"p":"j","s":"CNN_v1","x":150,"y":0.94},
{"p":"j","s":"CNN_v2","x":0,"y":0},{"p":"j","s":"CNN_v2","x":5,"y":0.05},{"p":"j","s":"CNN_v2","x":10,"y":0.15},{"p":"j","s":"CNN_v2","x":15,"y":0.28},{"p":"j","s":"CNN_v2","x":20,"y":0.45},{"p":"j","s":"CNN_v2","x":25,"y":0.6},{"p":"j","s":"CNN_v2","x":30,"y":0.72},{"p":"j","s":"CNN_v2","x":35,"y":0.8},{"p":"j","s":"CNN_v2","x":40,"y":0.83},{"p":"j","s":"CNN_v2","x":50,"y":0.84},{"p":"j","s":"CNN_v2","x":60,"y":0.85},{"p":"j","s":"CNN_v2","x":80,"y":0.865},{"p":"j","s":"CNN_v2","x":100,"y":0.875},{"p":"j","s":"CNN_v2","x":120,"y":0.885},{"p":"j","s":"CNN_v2","x":150,"y":0.9},
{"p":"j","s":"CNN_v3","x":0,"y":0},{"p":"j","s":"CNN_v3","x":5,"y":0.1},{"p":"j","s":"CNN_v3","x":10,"y":0.3},{"p":"j","s":"CNN_v3","x":15,"y":0.5},{"p":"j","s":"CNN_v3","x":20,"y":0.65},{"p":"j","s":"CNN_v3","x":25,"y":0.75},{"p":"j","s":"CNN_v3","x":30,"y":0.82},{"p":"j","s":"CNN_v3","x":35,"y":0.86},{"p":"j","s":"CNN_v3","x":40,"y":0.88},{"p":"j","s":"CNN_v3","x":50,"y":0.91},{"p":"j","s":"CNN_v3","x":60,"y":0.92},{"p":"j","s":"CNN_v3","x":80,"y":0.925},{"p":"j","s":"CNN_v3","x":100,"y":0.925},{"p":"j","s":"CNN_v3","x":150,"y":0.93},
{"p":"j","s":"ASE","x":0,"y":0},{"p":"j","s":"ASE","x":3,"y":0.02},{"p":"j","s":"ASE","x":5,"y":0.03},{"p":"j","s":"ASE","x":10,"y":0.035},{"p":"j","s":"ASE","x":12,"y":0.05},{"p":"j","s":"ASE","x":20,"y":0.09},{"p":"j","s":"ASE","x":25,"y":0.11},{"p":"j","s":"ASE","x":30,"y":0.11},{"p":"j","s":"ASE","x":150,"y":0.11},
{"p":"j","s":"DS-KCF","x":0,"y":0},{"p":"j","s":"DS-KCF","x":5,"y":0.08},{"p":"j","s":"DS-KCF","x":10,"y":0.14},{"p":"j","s":"DS-KCF","x":15,"y":0.2},{"p":"j","s":"DS-KCF","x":20,"y":0.27},{"p":"j","s":"DS-KCF","x":25,"y":0.3},{"p":"j","s":"DS-KCF","x":30,"y":0.305},{"p":"j","s":"DS-KCF","x":150,"y":0.305},

{"p":"k","s":"SOAB","x":0,"y":0},{"p":"k","s":"SOAB","x":5,"y":0.2},{"p":"k","s":"SOAB","x":10,"y":0.45},{"p":"k","s":"SOAB","x":15,"y":0.63},{"p":"k","s":"SOAB","x":20,"y":0.73},{"p":"k","s":"SOAB","x":25,"y":0.77},{"p":"k","s":"SOAB","x":30,"y":0.79},{"p":"k","s":"SOAB","x":35,"y":0.82},{"p":"k","s":"SOAB","x":40,"y":0.84},{"p":"k","s":"SOAB","x":50,"y":0.855},{"p":"k","s":"SOAB","x":60,"y":0.86},{"p":"k","s":"SOAB","x":70,"y":0.87},{"p":"k","s":"SOAB","x":80,"y":0.89},{"p":"k","s":"SOAB","x":100,"y":0.91},{"p":"k","s":"SOAB","x":120,"y":0.92},{"p":"k","s":"SOAB","x":150,"y":0.93},
{"p":"k","s":"OAB","x":0,"y":0},{"p":"k","s":"OAB","x":10,"y":0.05},{"p":"k","s":"OAB","x":15,"y":0.1},{"p":"k","s":"OAB","x":20,"y":0.2},{"p":"k","s":"OAB","x":25,"y":0.32},{"p":"k","s":"OAB","x":30,"y":0.47},{"p":"k","s":"OAB","x":35,"y":0.62},{"p":"k","s":"OAB","x":40,"y":0.7},{"p":"k","s":"OAB","x":45,"y":0.73},{"p":"k","s":"OAB","x":50,"y":0.74},{"p":"k","s":"OAB","x":60,"y":0.76},{"p":"k","s":"OAB","x":70,"y":0.77},{"p":"k","s":"OAB","x":80,"y":0.79},{"p":"k","s":"OAB","x":100,"y":0.82},{"p":"k","s":"OAB","x":120,"y":0.83},{"p":"k","s":"OAB","x":150,"y":0.86},
{"p":"k","s":"CNN_v1","x":0,"y":0},{"p":"k","s":"CNN_v1","x":5,"y":0.03},{"p":"k","s":"CNN_v1","x":10,"y":0.1},{"p":"k","s":"CNN_v1","x":15,"y":0.25},{"p":"k","s":"CNN_v1","x":20,"y":0.45},{"p":"k","s":"CNN_v1","x":25,"y":0.68},{"p":"k","s":"CNN_v1","x":30,"y":0.88},{"p":"k","s":"CNN_v1","x":35,"y":0.96},{"p":"k","s":"CNN_v1","x":40,"y":0.99},{"p":"k","s":"CNN_v1","x":45,"y":1},{"p":"k","s":"CNN_v1","x":150,"y":1},
{"p":"k","s":"CNN_v2","x":0,"y":0},{"p":"k","s":"CNN_v2","x":5,"y":0.02},{"p":"k","s":"CNN_v2","x":10,"y":0.07},{"p":"k","s":"CNN_v2","x":15,"y":0.15},{"p":"k","s":"CNN_v2","x":20,"y":0.3},{"p":"k","s":"CNN_v2","x":25,"y":0.55},{"p":"k","s":"CNN_v2","x":30,"y":0.78},{"p":"k","s":"CNN_v2","x":35,"y":0.92},{"p":"k","s":"CNN_v2","x":40,"y":0.97},{"p":"k","s":"CNN_v2","x":45,"y":0.995},{"p":"k","s":"CNN_v2","x":50,"y":1},{"p":"k","s":"CNN_v2","x":150,"y":1},
{"p":"k","s":"CNN_v3","x":0,"y":0},{"p":"k","s":"CNN_v3","x":5,"y":0.02},{"p":"k","s":"CNN_v3","x":10,"y":0.06},{"p":"k","s":"CNN_v3","x":15,"y":0.12},{"p":"k","s":"CNN_v3","x":20,"y":0.25},{"p":"k","s":"CNN_v3","x":25,"y":0.45},{"p":"k","s":"CNN_v3","x":30,"y":0.65},{"p":"k","s":"CNN_v3","x":35,"y":0.82},{"p":"k","s":"CNN_v3","x":40,"y":0.9},{"p":"k","s":"CNN_v3","x":45,"y":0.94},{"p":"k","s":"CNN_v3","x":50,"y":0.96},{"p":"k","s":"CNN_v3","x":60,"y":0.98},{"p":"k","s":"CNN_v3","x":70,"y":0.99},{"p":"k","s":"CNN_v3","x":80,"y":1},{"p":"k","s":"CNN_v3","x":150,"y":1},
{"p":"k","s":"ASE","x":0,"y":0},{"p":"k","s":"ASE","x":5,"y":0.03},{"p":"k","s":"ASE","x":10,"y":0.08},{"p":"k","s":"ASE","x":15,"y":0.1},{"p":"k","s":"ASE","x":20,"y":0.12},{"p":"k","s":"ASE","x":30,"y":0.15},{"p":"k","s":"ASE","x":40,"y":0.18},{"p":"k","s":"ASE","x":50,"y":0.21},{"p":"k","s":"ASE","x":60,"y":0.225},{"p":"k","s":"ASE","x":85,"y":0.23},{"p":"k","s":"ASE","x":150,"y":0.23},
{"p":"k","s":"DS-KCF","x":0,"y":0},{"p":"k","s":"DS-KCF","x":5,"y":0.1},{"p":"k","s":"DS-KCF","x":10,"y":0.35},{"p":"k","s":"DS-KCF","x":15,"y":0.65},{"p":"k","s":"DS-KCF","x":20,"y":0.85},{"p":"k","s":"DS-KCF","x":25,"y":0.93},{"p":"k","s":"DS-KCF","x":30,"y":0.96},{"p":"k","s":"DS-KCF","x":40,"y":0.965},{"p":"k","s":"DS-KCF","x":150,"y":0.965}
]},
"config":{
 "view":{"stroke":"#666666","strokeWidth":1},
 "font":"'Liberation Serif', 'DejaVu Serif', serif",
 "axis":{"labelFont":"'Liberation Serif', 'DejaVu Serif', serif","labelFontWeight":"bold","labelFontSize":9.5,"labelColor":"#000","labelFlush":false,"labelOverlap":false,"titleFont":"'Liberation Serif', 'DejaVu Serif', serif","titleFontWeight":"bold","titleColor":"#000","grid":false,"ticks":false,"domain":false,"labelPadding":3},
 "axisX":{"titleFontSize":12.5,"titlePadding":2},
 "axisY":{"titleFontSize":13,"titlePadding":3},
 "legend":{"orient":"bottom-right","offset":2,"fillColor":"white","strokeColor":"#888888","padding":6,"labelFont":"'Liberation Serif', 'DejaVu Serif', serif","labelFontWeight":"bold","labelFontSize":10,"labelColor":"#000","symbolType":"stroke","symbolSize":200,"symbolStrokeWidth":2,"rowPadding":0.5,"labelOffset":12},
 "title":{"orient":"bottom","font":"'Liberation Serif', 'DejaVu Serif', serif","fontSize":26,"fontWeight":"normal","color":"#222222","offset":9,"anchor":"middle"}
},
"spacing":18,
"center":true,
"resolve":{"scale":{"color":"independent","strokeDash":"independent"},"legend":{"color":"independent","strokeDash":"independent"}},
"vconcat":[
{"hconcat":[
 {"width":172,"height":151,"transform":[{"filter":"datum.p==='a'"}],"title":{"text":"(a) Hallway 1"},"mark":{"type":"line","strokeWidth":1.5},"encoding":{"x":{"field":"x","type":"quantitative","scale":{"domain":[0,160],"nice":false},"axis":{"values":[0,20,40,60,80,100,120,140,160],"title":"Location Error Threshold (pixel)","titleFontSize":12.5}},"y":{"field":"y","type":"quantitative","scale":{"domain":[0,1]},"axis":{"values":[0,0.2,0.4,0.6,0.8,1],"format":".1f","title":"Precision","titleFontSize":13}},"color":{"field":"s","type":"nominal","scale":{"domain":["SOAB","OAB","CNN_v1","CNN_v2","CNN_v3","ASE","DS-KCF"],"range":["#008000","#ff2020","#00bfbf","#bf00bf","#bfbf00","#000000","#888888"]},"legend":{"title":null}},"strokeDash":{"field":"s","type":"nominal","scale":{"domain":["SOAB","OAB","CNN_v1","CNN_v2","CNN_v3","ASE","DS-KCF"],"range":[[1,0],[1,0],[1,0],[1,0],[1,0],[1,0],[2,1.5]]},"legend":{"title":null}}}},
 {"width":172,"height":151,"transform":[{"filter":"datum.p==='b'"}],"title":{"text":"(b) Multi-crossings"},"mark":{"type":"line","strokeWidth":1.5},"encoding":{"x":{"field":"x","type":"quantitative","scale":{"domain":[0,160],"nice":false},"axis":{"values":[0,20,40,60,80,100,120,140,160],"title":"Location Error Threshold (pixel)","titleFontSize":12.5}},"y":{"field":"y","type":"quantitative","scale":{"domain":[0,1]},"axis":{"values":[0,0.2,0.4,0.6,0.8,1],"format":".1f","title":"Precision","titleFontSize":13}},"color":{"field":"s","type":"nominal","scale":{"domain":["SOAB","OAB","CNN_v1","CNN_v2","CNN_v3","ASE","DS-KCF"],"range":["#008000","#ff2020","#00bfbf","#bf00bf","#bfbf00","#000000","#888888"]},"legend":{"title":null}},"strokeDash":{"field":"s","type":"nominal","scale":{"domain":["SOAB","OAB","CNN_v1","CNN_v2","CNN_v3","ASE","DS-KCF"],"range":[[1,0],[1,0],[1,0],[1,0],[1,0],[1,0],[2,1.5]]},"legend":{"title":null}}}},
 {"width":172,"height":151,"transform":[{"filter":"datum.p==='c'"}],"title":{"text":"(c) Same Clothes 1"},"mark":{"type":"line","strokeWidth":1.5},"encoding":{"x":{"field":"x","type":"quantitative","scale":{"domain":[0,160],"nice":false},"axis":{"values":[0,20,40,60,80,100,120,140,160],"title":"Location Error Threshold (pixel)","titleFontSize":12.5}},"y":{"field":"y","type":"quantitative","scale":{"domain":[0,1]},"axis":{"values":[0,0.2,0.4,0.6,0.8,1],"format":".1f","title":"Precision","titleFontSize":13}},"color":{"field":"s","type":"nominal","scale":{"domain":["SOAB","OAB","CNN_v1","CNN_v2","CNN_v3","ASE","DS-KCF"],"range":["#008000","#ff2020","#00bfbf","#bf00bf","#bfbf00","#000000","#888888"]},"legend":{"title":null}},"strokeDash":{"field":"s","type":"nominal","scale":{"domain":["SOAB","OAB","CNN_v1","CNN_v2","CNN_v3","ASE","DS-KCF"],"range":[[1,0],[1,0],[1,0],[1,0],[1,0],[1,0],[2,1.5]]},"legend":{"title":null}}}},
 {"width":172,"height":151,"transform":[{"filter":"datum.p==='d'"}],"title":{"text":"(d) Lecture Hall"},"mark":{"type":"line","strokeWidth":1.5},"encoding":{"x":{"field":"x","type":"quantitative","scale":{"domain":[0,160],"nice":false},"axis":{"values":[0,20,40,60,80,100,120,140,160],"title":"Location Error Threshold (pixel)","titleFontSize":12.5}},"y":{"field":"y","type":"quantitative","scale":{"domain":[0,1]},"axis":{"values":[0,0.2,0.4,0.6,0.8,1],"format":".1f","title":"Precision","titleFontSize":13}},"color":{"field":"s","type":"nominal","scale":{"domain":["SOAB","OAB","CNN_v1","CNN_v2","CNN_v3","ASE","DS-KCF"],"range":["#008000","#ff2020","#00bfbf","#bf00bf","#bfbf00","#000000","#888888"]},"legend":{"title":null}},"strokeDash":{"field":"s","type":"nominal","scale":{"domain":["SOAB","OAB","CNN_v1","CNN_v2","CNN_v3","ASE","DS-KCF"],"range":[[1,0],[1,0],[1,0],[1,0],[1,0],[1,0],[2,1.5]]},"legend":{"title":null}}}}
 ],"spacing":57,"bounds":"flush","resolve":{"scale":{"color":"independent","strokeDash":"independent"},"legend":{"color":"independent","strokeDash":"independent"}}},
{"hconcat":[
 {"width":172,"height":151,"transform":[{"filter":"datum.p==='e'"}],"title":{"text":"(e) Same Clothes 2"},"mark":{"type":"line","strokeWidth":1.5},"encoding":{"x":{"field":"x","type":"quantitative","scale":{"domain":[0,160],"nice":false},"axis":{"values":[0,20,40,60,80,100,120,140,160],"title":"Location Error Threshold (pixel)","titleFontSize":12.5}},"y":{"field":"y","type":"quantitative","scale":{"domain":[0,1]},"axis":{"values":[0,0.2,0.4,0.6,0.8,1],"format":".1f","title":"Precision","titleFontSize":13}},"color":{"field":"s","type":"nominal","scale":{"domain":["SOAB","OAB","CNN_v1","CNN_v2","CNN_v3","ASE","DS-KCF"],"range":["#008000","#ff2020","#00bfbf","#bf00bf","#bfbf00","#000000","#888888"]},"legend":{"title":null}},"strokeDash":{"field":"s","type":"nominal","scale":{"domain":["SOAB","OAB","CNN_v1","CNN_v2","CNN_v3","ASE","DS-KCF"],"range":[[1,0],[1,0],[1,0],[1,0],[1,0],[1,0],[2,1.5]]},"legend":{"title":null}}}},
 {"width":172,"height":151,"transform":[{"filter":"datum.p==='f'"}],"title":{"text":"(f) Long Corridor"},"mark":{"type":"line","strokeWidth":1.5},"encoding":{"x":{"field":"x","type":"quantitative","scale":{"domain":[0,160],"nice":false},"axis":{"values":[0,20,40,60,80,100,120,140,160],"title":"Location Error Threshold (pixel)","titleFontSize":12.5}},"y":{"field":"y","type":"quantitative","scale":{"domain":[0,1]},"axis":{"values":[0,0.2,0.4,0.6,0.8,1],"format":".1f","title":"Precision","titleFontSize":13}},"color":{"field":"s","type":"nominal","scale":{"domain":["SOAB","OAB","CNN_v1","CNN_v2","CNN_v3","ASE","DS-KCF"],"range":["#008000","#ff2020","#00bfbf","#bf00bf","#bfbf00","#000000","#888888"]},"legend":{"title":null}},"strokeDash":{"field":"s","type":"nominal","scale":{"domain":["SOAB","OAB","CNN_v1","CNN_v2","CNN_v3","ASE","DS-KCF"],"range":[[1,0],[1,0],[1,0],[1,0],[1,0],[1,0],[2,1.5]]},"legend":{"title":null}}}},
 {"width":172,"height":151,"transform":[{"filter":"datum.p==='g'"}],"title":{"text":"(g) Walking Outdoor"},"mark":{"type":"line","strokeWidth":1.5},"encoding":{"x":{"field":"x","type":"quantitative","scale":{"domain":[0,160],"nice":false},"axis":{"values":[0,20,40,60,80,100,120,140,160],"title":"Location Error Threshold (pixel)","titleFontSize":12.5}},"y":{"field":"y","type":"quantitative","scale":{"domain":[0,1]},"axis":{"values":[0,0.2,0.4,0.6,0.8,1],"format":".1f","title":"Precision","titleFontSize":13}},"color":{"field":"s","type":"nominal","scale":{"domain":["SOAB","OAB","CNN_v1","CNN_v2","CNN_v3","ASE","DS-KCF"],"range":["#008000","#ff2020","#00bfbf","#bf00bf","#bfbf00","#000000","#888888"]},"legend":{"title":null}},"strokeDash":{"field":"s","type":"nominal","scale":{"domain":["SOAB","OAB","CNN_v1","CNN_v2","CNN_v3","ASE","DS-KCF"],"range":[[1,0],[1,0],[1,0],[1,0],[1,0],[1,0],[2,1.5]]},"legend":{"title":null}}}},
 {"width":172,"height":151,"transform":[{"filter":"datum.p==='h'"}],"title":{"text":"(h) Sidewalk"},"mark":{"type":"line","strokeWidth":1.5},"encoding":{"x":{"field":"x","type":"quantitative","scale":{"domain":[0,160],"nice":false},"axis":{"values":[0,20,40,60,80,100,120,140,160],"title":"Location Error Threshold (pixel)","titleFontSize":12.5}},"y":{"field":"y","type":"quantitative","scale":{"domain":[0,1]},"axis":{"values":[0,0.2,0.4,0.6,0.8,1],"format":".1f","title":"Precision","titleFontSize":13}},"color":{"field":"s","type":"nominal","scale":{"domain":["SOAB","OAB","CNN_v1","CNN_v2","CNN_v3","ASE","DS-KCF"],"range":["#008000","#ff2020","#00bfbf","#bf00bf","#bfbf00","#000000","#888888"]},"legend":{"title":null}},"strokeDash":{"field":"s","type":"nominal","scale":{"domain":["SOAB","OAB","CNN_v1","CNN_v2","CNN_v3","ASE","DS-KCF"],"range":[[1,0],[1,0],[1,0],[1,0],[1,0],[1,0],[2,1.5]]},"legend":{"title":null}}}}
 ],"spacing":57,"bounds":"flush","resolve":{"scale":{"color":"independent","strokeDash":"independent"},"legend":{"color":"independent","strokeDash":"independent"}}},
{"hconcat":[
 {"width":172,"height":151,"transform":[{"filter":"datum.p==='i'"}],"title":{"text":"(i) Lab & Seminar"},"mark":{"type":"line","strokeWidth":1.5},"encoding":{"x":{"field":"x","type":"quantitative","scale":{"domain":[0,160],"nice":false},"axis":{"values":[0,20,40,60,80,100,120,140,160],"title":"Location Error Threshold (pixel)","titleFontSize":12.5}},"y":{"field":"y","type":"quantitative","scale":{"domain":[0,1]},"axis":{"values":[0,0.2,0.4,0.6,0.8,1],"format":".1f","title":"Precision","titleFontSize":13}},"color":{"field":"s","type":"nominal","scale":{"domain":["SOAB","OAB","CNN_v1","CNN_v2","CNN_v3","ASE","DS-KCF"],"range":["#008000","#ff2020","#00bfbf","#bf00bf","#bfbf00","#000000","#888888"]},"legend":{"title":null}},"strokeDash":{"field":"s","type":"nominal","scale":{"domain":["SOAB","OAB","CNN_v1","CNN_v2","CNN_v3","ASE","DS-KCF"],"range":[[1,0],[1,0],[1,0],[1,0],[1,0],[1,0],[2,1.5]]},"legend":{"title":null}}}},
 {"width":172,"height":151,"transform":[{"filter":"datum.p==='j'"}],"title":{"text":"(j) Corridor Corners"},"mark":{"type":"line","strokeWidth":1.5},"encoding":{"x":{"field":"x","type":"quantitative","scale":{"domain":[0,160],"nice":false},"axis":{"values":[0,20,40,60,80,100,120,140,160],"title":"Location Error Threshold (pixel)","titleFontSize":12.5}},"y":{"field":"y","type":"quantitative","scale":{"domain":[0,1]},"axis":{"values":[0,0.2,0.4,0.6,0.8,1],"format":".1f","title":"Precision","titleFontSize":13}},"color":{"field":"s","type":"nominal","scale":{"domain":["SOAB","OAB","CNN_v1","CNN_v2","CNN_v3","ASE","DS-KCF"],"range":["#008000","#ff2020","#00bfbf","#bf00bf","#bfbf00","#000000","#888888"]},"legend":{"title":null}},"strokeDash":{"field":"s","type":"nominal","scale":{"domain":["SOAB","OAB","CNN_v1","CNN_v2","CNN_v3","ASE","DS-KCF"],"range":[[1,0],[1,0],[1,0],[1,0],[1,0],[1,0],[2,1.5]]},"legend":{"title":null}}}},
 {"width":172,"height":151,"transform":[{"filter":"datum.p==='k'"}],"title":{"text":"(k) Hallway 2"},"mark":{"type":"line","strokeWidth":1.5},"encoding":{"x":{"field":"x","type":"quantitative","scale":{"domain":[0,160],"nice":false},"axis":{"values":[0,20,40,60,80,100,120,140,160],"title":"Location Error Threshold (pixel)","titleFontSize":12.5}},"y":{"field":"y","type":"quantitative","scale":{"domain":[0,1]},"axis":{"values":[0,0.2,0.4,0.6,0.8,1],"format":".1f","title":"Precision","titleFontSize":13}},"color":{"field":"s","type":"nominal","scale":{"domain":["SOAB","OAB","CNN_v1","CNN_v2","CNN_v3","ASE","DS-KCF"],"range":["#008000","#ff2020","#00bfbf","#bf00bf","#bfbf00","#000000","#888888"]},"legend":{"title":null}},"strokeDash":{"field":"s","type":"nominal","scale":{"domain":["SOAB","OAB","CNN_v1","CNN_v2","CNN_v3","ASE","DS-KCF"],"range":[[1,0],[1,0],[1,0],[1,0],[1,0],[1,0],[2,1.5]]},"legend":{"title":null}}}}
 ],"spacing":57,"bounds":"flush","resolve":{"scale":{"color":"independent","strokeDash":"independent"},"legend":{"color":"independent","strokeDash":"independent"}}}
]
}
